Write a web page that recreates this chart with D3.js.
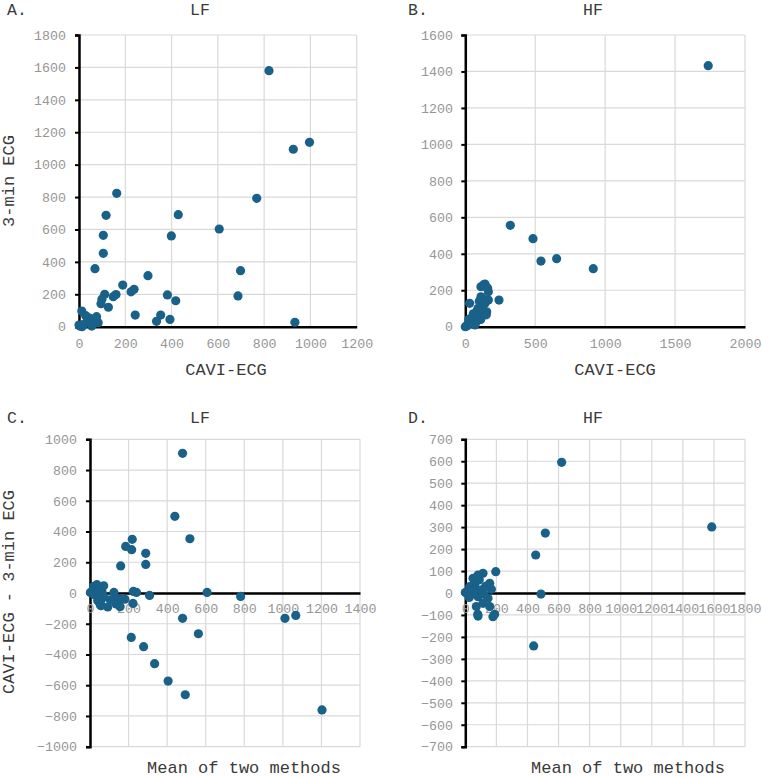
<!DOCTYPE html>
<html>
<head>
<meta charset="utf-8">
<script src="https://cdn.jsdelivr.net/npm/d3@7"></script>
<style>
  html, body { margin: 0; padding: 0; background: #fff; }
  svg { display: block; }
  text { font-family: "Liberation Mono", "Courier New", monospace; }
</style>
</head>
<body>
<div id="chart"></div>
<script>
// ---------- DATA ----------
// Panel A: LF, CAVI-ECG (x) vs 3-min ECG (y)
const lfCavi = [821, 926, 996, 163, 768, 117, 429, 606, 105, 399, 105, 69, 698, 298, 189, 238, 225, 160, 111, 382, 687, 99, 95, 148, 127, 418, 243, 353, 335, 393, 933, 12, 29, 48, 76, 65, 4, 13, 55, 83, 40, 0, 20, 35, 60];
const lf3min = [1580, 1095, 1138, 823, 792, 687, 691, 603, 564, 560, 453, 358, 346, 315, 257, 231, 215, 198, 200, 196, 190, 170, 142, 185, 120, 160, 72, 72, 33, 45, 27, 97, 68, 52, 62, 35, 4, 0, 4, 25, 30, 10, 15, 60, 15];

// Panel B: HF, CAVI-ECG (x) vs 3-min ECG (y)
const hfCavi = [1737, 322, 484, 541, 653, 915, 241, 31, 112, 141, 160, 129, 153, 165, 112, 165, 141, 105, 153, 117, 69, 93, 46, 10, 36, 69, 25, 81, 57, 130, 100, 90, 125, 150, 0, 20, 80, 110, 50];
const hf3min = [1432, 556, 483, 360, 373, 318, 146, 128, 219, 234, 211, 229, 216, 192, 164, 146, 128, 110, 82, 64, 55, 37, 27, 4, 20, 10, 40, 82, 71, 150, 140, 100, 95, 65, 0, 15, 30, 40, 50];

// Panel C: LF Bland-Altman, mean of two methods (x) vs difference (y)
const lfMean = [480, 440, 518, 219, 185, 216, 289, 289, 159, 607, 781, 309, 225, 241, 223, 480, 562, 1011, 1067, 214, 278, 335, 405, 494, 1203, 124, 57, 92, 156, 181, 36, 19, 71, 2, 62, 36, 45, 71, 105, 145, 53, 135, 119, 30, 50, 20, 60, 40, 167];
const lfDiff = [909, 499, 353, 349, 303, 282, 258, 186, 176, 4, -22, -16, 10, 4, -68, -165, -265, -165, -146, -289, -349, -460, -573, -662, -761, 4, -83, -91, -89, -40, 54, 43, 47, 4, 10, 10, -22, -20, -44, -40, -76, -71, -47, 30, 25, -10, -40, -50, -37];

// Panel D: HF Bland-Altman, mean of two methods (x) vs difference (y)
const hfMean = [620, 1586, 515, 453, 487, 440, 196, 114, 82, 50, 157, 168, 7, 50, 104, 82, 146, 114, 157, 71, 82, 178, 189, 28, 39, 0, 15, 60, 90, 130, 120, 25, 65, 80];
const hfDiff = [595, 301, 273, 173, -5, -241, 97, 90, 82, 67, 44, 17, 3, 17, 14, -17, -24, -47, -62, -62, -105, -108, -97, 29, -6, 2, 0, 40, 60, 30, -5, -20, 20, -97];

// Tick values
const ticksA_x = [0, 200, 400, 600, 800, 1000, 1200];
const ticksA_y = [0, 200, 400, 600, 800, 1000, 1200, 1400, 1600, 1800];
const ticksB_x = [0, 500, 1000, 1500, 2000];
const ticksB_y = [0, 200, 400, 600, 800, 1000, 1200, 1400, 1600];
const ticksC_x = [0, 200, 400, 600, 800, 1000, 1200, 1400];
const ticksC_y = [-1000, -800, -600, -400, -200, 0, 200, 400, 600, 800, 1000];
const ticksD_x = [0, 200, 400, 600, 800, 1000, 1200, 1400, 1600, 1800];
const ticksD_y = [-700, -600, -500, -400, -300, -200, -100, 0, 100, 200, 300, 400, 500, 600, 700];

// Text
const panelLetters = ["A.", "B.", "C.", "D."];
const panelTitles = ["LF", "HF", "LF", "HF"];
const xTitles = ["CAVI-ECG", "CAVI-ECG", "Mean of two methods", "Mean of two methods"];
const yTitles = ["3-min ECG", "", "CAVI-ECG - 3-min ECG", ""];

// ---------- DRAWING ----------
const W = 762, H = 777;
const DOT = "#1a6189";
const GRID = "#d9d9d9";
const TICKC = "#969696";
const TITLEC = "#3a3a3a";

const svg = d3.select("#chart").append("svg").attr("width", W).attr("height", H);

function panel(o) {
  const x = d3.scaleLinear().domain(o.xDom).range(o.xRange);
  const y = d3.scaleLinear().domain(o.yDom).range(o.yRange);
  const g = svg.append("g");

  // gridlines
  g.append("g").selectAll("line").data(o.xTicks).join("line")
    .attr("x1", d => x(d)).attr("x2", d => x(d))
    .attr("y1", o.yRange[0]).attr("y2", o.yRange[1])
    .attr("stroke", GRID).attr("stroke-width", 1.2);
  g.append("g").selectAll("line").data(o.yTicks).join("line")
    .attr("x1", o.xRange[0]).attr("x2", o.xRange[1])
    .attr("y1", d => y(d)).attr("y2", d => y(d))
    .attr("stroke", GRID).attr("stroke-width", 1.2);

  // y axis (left) with ticks
  const yAxis = d3.axisLeft(y).tickValues(o.yTicks).tickSize(4).tickPadding(6).tickFormat(d3.format("d"));
  const ya = g.append("g").attr("transform", `translate(${x(0)},0)`).call(yAxis);
  ya.select(".domain").attr("stroke", "#000").attr("stroke-width", 2.5);
  ya.selectAll(".tick line").attr("stroke", "#000").attr("stroke-width", 2);
  ya.selectAll(".tick text").attr("fill", TICKC).attr("font-size", 13.3)
    .attr("font-family", "'Liberation Mono', monospace").attr("x", o.yLabelX - x(0)).attr("dx", 0);

  // x axis at zero
  const xAxis = d3.axisBottom(x).tickValues(o.xTicks).tickSize(0).tickPadding(0).tickFormat(d3.format("d"));
  const xa = g.append("g").attr("transform", `translate(0,${y(0)})`).call(xAxis);
  xa.select(".domain").attr("stroke", "#000").attr("stroke-width", 2.5);
  xa.selectAll(".tick text").attr("fill", TICKC).attr("font-size", 13.3)
    .attr("font-family", "'Liberation Mono', monospace")
    .attr("y", o.xLabelY - y(0)).attr("dy", "0.35em");

  // points
  const pts = o.xs.map((v, i) => [v, o.ys[i]]);
  g.append("g").selectAll("circle").data(pts).join("circle")
    .attr("cx", d => x(d[0])).attr("cy", d => y(d[1])).attr("r", 4.6)
    .attr("fill", DOT);

  // titles
  g.append("text").attr("x", o.letterX).attr("y", o.titleY).attr("dy", "0.35em")
    .attr("font-size", 16.5).attr("fill", TITLEC).text(o.letter);
  g.append("text").attr("x", o.titleX).attr("y", o.titleY).attr("dy", "0.35em")
    .attr("text-anchor", "middle").attr("font-size", 16.5).attr("fill", TITLEC).text(o.title);
  g.append("text").attr("x", o.xTitleX).attr("y", o.xTitleY).attr("dy", "0.35em")
    .attr("text-anchor", "middle").attr("font-size", 17).attr("fill", TITLEC).text(o.xTitle);
  if (o.yTitle) {
    g.append("text").attr("transform", `translate(${o.yTitleX},${o.yTitleY}) rotate(-90)`)
      .attr("dy", "0.35em").attr("text-anchor", "middle").attr("font-size", 17)
      .attr("fill", TITLEC).text(o.yTitle);
  }
}

panel({
  xs: lfCavi, ys: lf3min,
  xDom: [0, 1200], yDom: [0, 1800], xRange: [79, 356.7], yRange: [326.7, 35],
  xTicks: ticksA_x, yTicks: ticksA_y, yLabelX: 66, xLabelY: 343,
  letter: panelLetters[0], letterX: 7, title: panelTitles[0], titleX: 200, titleY: 9,
  xTitle: xTitles[0], xTitleX: 226, xTitleY: 369, yTitle: yTitles[0], yTitleX: 8, yTitleY: 181
});
panel({
  xs: hfCavi, ys: hf3min,
  xDom: [0, 2000], yDom: [0, 1600], xRange: [465.3, 745], yRange: [326.7, 35],
  xTicks: ticksB_x, yTicks: ticksB_y, yLabelX: 453, xLabelY: 343,
  letter: panelLetters[1], letterX: 408, title: panelTitles[1], titleX: 593, titleY: 9,
  xTitle: xTitles[1], xTitleX: 615, xTitleY: 369, yTitle: yTitles[1]
});
panel({
  xs: lfMean, ys: lfDiff,
  xDom: [0, 1400], yDom: [-1000, 1000], xRange: [90, 360], yRange: [746.7, 439.3],
  xTicks: ticksC_x, yTicks: ticksC_y, yLabelX: 77, xLabelY: 608,
  letter: panelLetters[2], letterX: 7, title: panelTitles[2], titleX: 200, titleY: 417,
  xTitle: xTitles[2], xTitleX: 244, xTitleY: 767, yTitle: yTitles[2], yTitleX: 8, yTitleY: 592
});
panel({
  xs: hfMean, ys: hfDiff,
  xDom: [0, 1800], yDom: [-700, 700], xRange: [465.3, 745], yRange: [746.7, 439.3],
  xTicks: ticksD_x, yTicks: ticksD_y, yLabelX: 453, xLabelY: 608,
  letter: panelLetters[3], letterX: 408, title: panelTitles[3], titleX: 593, titleY: 417,
  xTitle: xTitles[3], xTitleX: 628, xTitleY: 767, yTitle: yTitles[3]
});
</script>
</body>
</html>
